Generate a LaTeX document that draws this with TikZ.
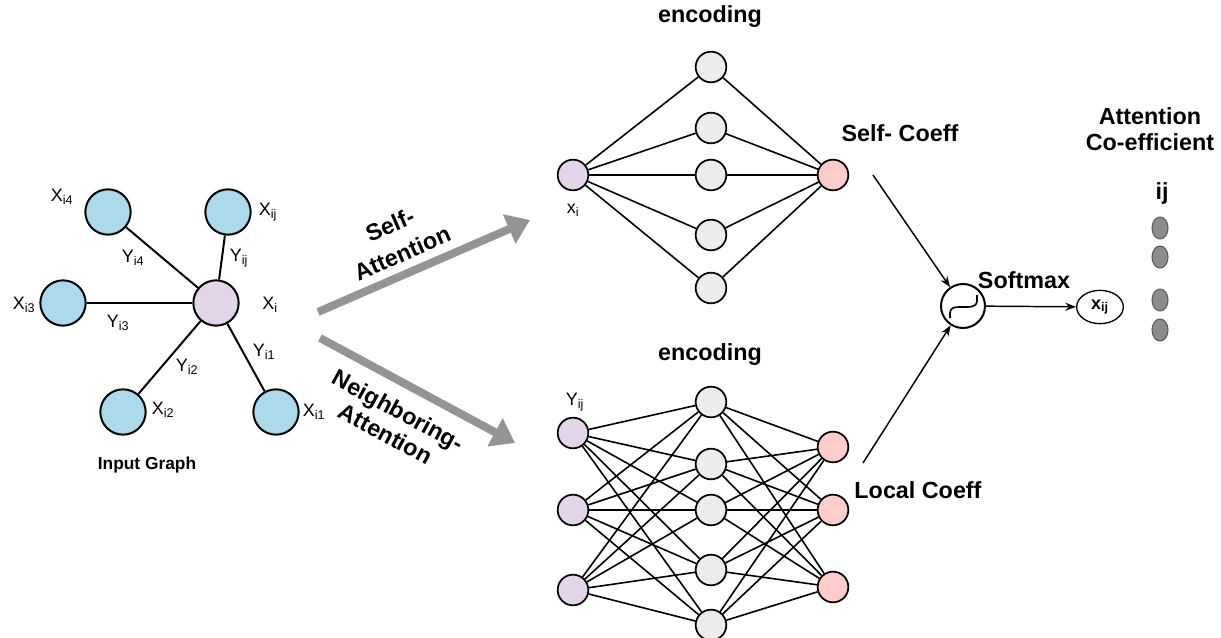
\documentclass[tikz,border=0pt]{standalone}
\usepackage{fontspec}
\setmainfont{Liberation Sans}
\usepackage{tikz}
\usepackage{xcolor}
\usetikzlibrary{arrows.meta,shapes.geometric}
\definecolor{nodeblue}{RGB}{173,218,234}
\definecolor{nodelilac}{RGB}{226,213,233}
\definecolor{nodepink}{RGB}{255,204,204}
\definecolor{nodegray}{RGB}{236,236,236}
\newcommand{\titlefont}{\fontsize{17.5}{20}\selectfont\bfseries}
\newcommand{\labfont}{\fontsize{13.5}{15}\selectfont}
\tikzset{%
  tipA/.tip={Triangle[length=17pt,width=23pt]},
  tipB/.tip={Stealth[length=8pt,width=6pt]},
  gnode/.style={circle,draw,line width=1.5pt,fill=nodeblue,minimum size=34pt,inner sep=0pt},
  cnode/.style={gnode,fill=nodelilac},
  inode/.style={circle,draw,line width=1.3pt,fill=nodelilac,minimum size=23pt,inner sep=0pt},
  hnode/.style={inode,fill=nodegray},
  onode/.style={inode,fill=nodepink},
  smnode/.style={circle,draw,line width=1.5pt,minimum size=33pt,inner sep=0pt},
  dotnode/.style={ellipse,draw=black!65,fill=black!45,line width=0.8pt,minimum width=12pt,minimum height=16.5pt,inner sep=0pt},
  gedge/.style={line width=1.5pt},
  nnedge/.style={line width=1.2pt},
  bigarrow/.style={line width=6pt,draw=black!42,-tipA},
  sarrow/.style={line width=1.1pt,-tipB}
}

\begin{document}
\begin{tikzpicture}[x=0.75pt,y=-0.75pt]
	\useasboundingbox (0,0) rectangle (1221,638);
	% input graph
	\node[cnode] (xi) at (216,303) {};
	\node[gnode] (xi4) at (108,212) {};
	\node[gnode] (xij) at (228,212) {};
	\node[gnode] (xi3) at (63,303) {};
	\node[gnode] (xi2) at (123,412) {};
	\node[gnode] (xi1) at (276,412) {};
	\draw[gedge] (xi) -- (xi4);
	\draw[gedge] (xi) -- (xij);
	\draw[gedge] (xi) -- (xi3);
	\draw[gedge] (xi) -- (xi2);
	\draw[gedge] (xi) -- (xi1);
	\node[font=\labfont] (lxi4) at (62,197) {X\textsubscript{i4}};
	\node[font=\labfont] (lxij) at (268,212) {X\textsubscript{ij}};
	\node[font=\labfont] (lxi) at (270,305) {X\textsubscript{i}};
	\node[font=\labfont] (lxi3) at (24,305) {X\textsubscript{i3}};
	\node[font=\labfont] (lxi2) at (163,410) {X\textsubscript{i2}};
	\node[font=\labfont] (lxi1) at (314,412) {X\textsubscript{i1}};
	\node[font=\labfont] (lyi4) at (133,258) {Y\textsubscript{i4}};
	\node[font=\labfont] (lyij) at (239,258) {Y\textsubscript{ij}};
	\node[font=\labfont] (lyi3) at (118,323) {Y\textsubscript{i3}};
	\node[font=\labfont] (lyi2) at (187,367) {Y\textsubscript{i2}};
	\node[font=\labfont] (lyi1) at (264,352) {Y\textsubscript{i1}};
	\node[font=\fontsize{13}{15}\selectfont\bfseries] (ingraph) at (147,465) {Input Graph};

	% attention arrows
	\coordinate (sa0) at (318,312);
	\coordinate (sa1) at (530,220);
	\coordinate (na0) at (320,338);
	\coordinate (na1) at (515,443);
	\draw[bigarrow] (sa0) -- (sa1);
	\draw[bigarrow] (na0) -- (na1);
	\node[rotate=23.5,align=center,font=\fontsize{17.5}{23}\selectfont\bfseries] (salab) at (396,239) {Self-\\Attention};
	\node[rotate=-28.5,align=center,font=\fontsize{17.5}{20}\selectfont\bfseries] (nalab) at (392,422) {Neighboring-\\Attention};

	% self network
	\node[font=\titlefont] (enc1) at (710,17) {encoding};
	\node[inode] (ti) at (573,175) {};
	\foreach \n/\y in {1/67,2/128,3/175,4/235,5/288}
		\node[hnode] (th\n) at (711,\y) {};
	\node[onode] (to) at (833,175) {};
	\foreach \n in {1,...,5}
		\draw[nnedge] (ti) -- (th\n) -- (to);
	\node[font=\labfont] (lti) at (573,210) {x\textsubscript{i}};
	\node[font=\titlefont] (selfc) at (900,133) {Self- Coeff};

	% neighbor network
	\node[font=\titlefont] (enc2) at (710,355) {encoding};
	\foreach \n/\y in {1/433,2/510,3/590}
		\node[inode] (bi\n) at (573,\y) {};
	\foreach \n/\y in {1/402,2/464,3/510,4/570,5/625}
		\node[hnode] (bh\n) at (711,\y) {};
	\foreach \n/\y in {1/447,2/510,3/587}
		\node[onode] (bo\n) at (833,\y) {};
	\foreach \a in {1,2,3}
		\foreach \b in {1,...,5}
			\draw[nnedge] (bi\a) -- (bh\b) -- (bo\a);
	\node[font=\labfont] (lbi) at (575,402) {Y\textsubscript{ij}};
	\node[font=\titlefont] (localc) at (918,490) {Local Coeff};

	% softmax
	\node[smnode] (sm) at (963,306) {};
	\draw[line width=1.2pt,shift={(sm)}] (-13,12) -- (-13,7) .. controls (-13,2) and (-9,1) .. (-4,1) -- (5,1) .. controls (10,1) and (14,-1) .. (14,-5) -- (14,-11);
	\node[font=\titlefont] (smlab) at (1024,280) {Softmax};
	\coordinate (selfout) at (873,175);
	\coordinate (localout) at (863,463);
	\draw[sarrow] (selfout) -- (sm);
	\draw[sarrow] (localout) -- (sm);
	\node[ellipse,draw,line width=1pt,minimum width=35pt,minimum height=25pt,inner sep=0pt,font=\labfont\bfseries] (xijout) at (1100,307) {x\textsubscript{ij}};
	\draw[sarrow] (sm) -- (xijout);

	% coefficients
	\node[align=center,font=\titlefont] (attlab) at (1150,129) {Attention\\Co-efficient};
	\node[font=\titlefont] (ijlab) at (1162,193) {ij};
	\foreach \n/\y in {1/228,2/257,3/300,4/330}
		\node[dotnode] (d\n) at (1160,\y) {};
\end{tikzpicture}
\end{document}
